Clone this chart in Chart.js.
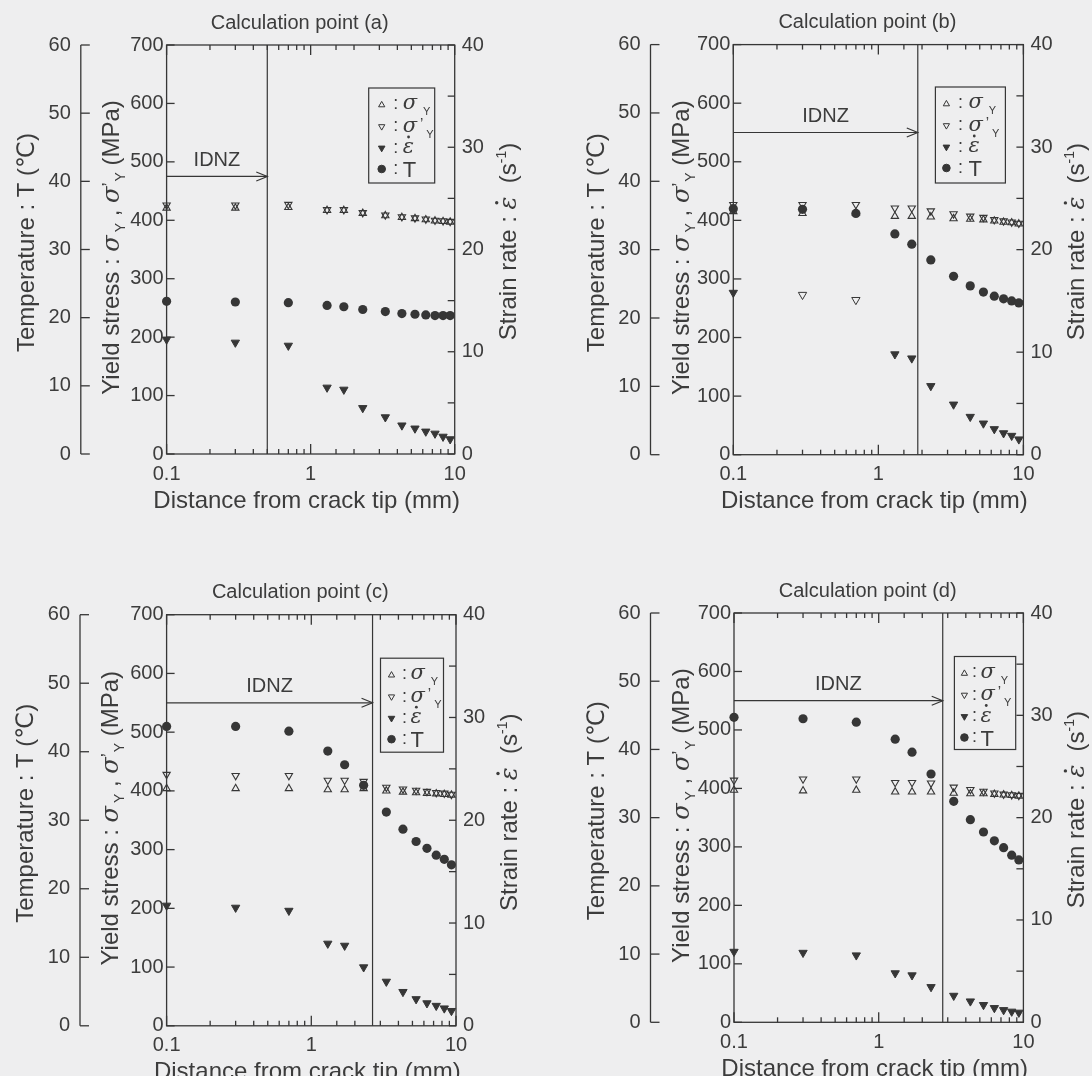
<!DOCTYPE html>
<html>
<head>
<meta charset="utf-8">
<script src="https://cdn.jsdelivr.net/npm/chart.js@4.4.1/dist/chart.umd.min.js"></script>
<style>
  html, body { margin: 0; padding: 0; background: #eeeeef; width: 1092px; height: 1076px; overflow: hidden; }
  canvas { position: absolute; }
</style>
</head>
<body>
<canvas id="pa" width="546" height="538" style="left:0;top:0"></canvas>
<canvas id="pb" width="546" height="538" style="left:546px;top:0"></canvas>
<canvas id="pc" width="546" height="538" style="left:0;top:538px"></canvas>
<canvas id="pd" width="546" height="538" style="left:546px;top:538px"></canvas>
<script>
// Distance of each calculation node ahead of the crack tip (mm)
const distance = [0.1, 0.3, 0.7, 1.3, 1.7, 2.3, 3.3, 4.3, 5.3, 6.3, 7.3, 8.3, 9.3];

// Calculation point (a)
const sigmaY_a  = [421, 421, 422, 417, 417, 412, 408, 405, 403, 401, 399, 398, 397];
const sigmaPY_a = [426, 426, 427, 418, 418, 413, 409, 406, 404, 402, 400, 399, 398];
const rate_a    = [11.2, 10.9, 10.6, 6.5, 6.3, 4.5, 3.6, 2.8, 2.5, 2.2, 2.0, 1.7, 1.45];
const temp_a    = [22.4, 22.3, 22.2, 21.8, 21.6, 21.2, 20.9, 20.6, 20.5, 20.4, 20.3, 20.3, 20.3];
const idnzEnd_a = 0.5;    // mm
const idnzLevel_a = 475;  // MPa

// Calculation point (b)
const sigmaY_b  = [415, 412, 413, 407, 407, 406, 403, 402, 401, 399, 397, 396, 394];
const sigmaPY_b = [427, 427, 427, 421, 421, 416, 411, 407, 405, 401, 399, 397, 395];
const rate_b    = [15.8, 15.6, 15.1, 9.8, 9.4, 6.7, 4.9, 3.7, 3.05, 2.5, 2.1, 1.85, 1.5];
const temp_b    = [36.0, 35.9, 35.3, 32.3, 30.8, 28.5, 26.1, 24.7, 23.8, 23.2, 22.8, 22.5, 22.2];
const idnzEnd_b = 1.87;
const idnzLevel_b = 550;

// Calculation point (c)
const sigmaY_c  = [404, 404, 404, 402, 402, 404, 400, 398, 397, 396, 395, 394, 393];
const sigmaPY_c = [428, 426, 426, 418, 418, 416, 406, 403, 401, 399, 397, 396, 394];
const rate_c    = [11.7, 11.5, 11.2, 8.0, 7.8, 5.7, 4.3, 3.3, 2.6, 2.2, 1.95, 1.7, 1.45];
const temp_c    = [43.7, 43.7, 43.0, 40.1, 38.1, 35.1, 31.2, 28.7, 26.9, 25.9, 24.9, 24.3, 23.5];
const idnzEnd_c = 2.65;
const idnzLevel_c = 550;

// Calculation point (d)
const sigmaY_d  = [397, 396, 397, 394, 394, 394, 392, 391, 391, 390, 389, 388, 387];
const sigmaPY_d = [414, 416, 416, 410, 410, 409, 402, 398, 395, 392, 390, 389, 388];
const rate_d    = [6.9, 6.8, 6.55, 4.8, 4.6, 3.45, 2.6, 2.05, 1.7, 1.4, 1.2, 1.05, 0.95];
const temp_d    = [44.7, 44.5, 44.0, 41.5, 39.6, 36.4, 32.4, 29.7, 27.9, 26.6, 25.6, 24.5, 23.8];
const idnzEnd_d = 2.77;
const idnzLevel_d = 550;

// Axis ticks and labels
const xTickValues = [0.1, 1, 10];
const xTickLabels = ['0.1', '1', '10'];
const stressTicks = [0, 100, 200, 300, 400, 500, 600, 700];
const tempTicks   = [0, 10, 20, 30, 40, 50, 60];
const rateTicks   = [0, 10, 20, 30, 40];
const panelTitles = ['Calculation point (a)', 'Calculation point (b)', 'Calculation point (c)', 'Calculation point (d)'];
const zoneLabel = 'IDNZ';

// ---------------------------------------------------------------------------
const FONT = '"Liberation Sans", Arial, "DejaVu Sans", sans-serif';
const SYMF = '"DejaVu Serif", "Liberation Serif", serif';
const INK = '#363636';
const TEXT = '#3c3c3c';
const BG = '#eeeeef';

const panels = [
  { id: 'pa', title: panelTitles[0], sY: sigmaY_a, sP: sigmaPY_a, rate: rate_a, temp: temp_a, end: idnzEnd_a, level: idnzLevel_a,
    box: { l: 166.6, t: 45, r: 454.7, b: 454 }, tempLine: 80.8,
    legend: { x: -86, y: 43, w: 66, h: 95, sym: 13, colon: 27, text: 34 }, hollowRate: [] },
  { id: 'pb', title: panelTitles[1], sY: sigmaY_b, sP: sigmaPY_b, rate: rate_b, temp: temp_b, end: idnzEnd_b, level: idnzLevel_b,
    box: { l: 187.3, t: 44.6, r: 477.4, b: 454.7 }, tempLine: 104.5,
    legend: { x: -88, y: 42.4, w: 70, h: 96, sym: 11, colon: 25, text: 33 }, hollowRate: [1, 2] },
  { id: 'pc', title: panelTitles[2], sY: sigmaY_c, sP: sigmaPY_c, rate: rate_c, temp: temp_c, end: idnzEnd_c, level: idnzLevel_c,
    box: { l: 166.6, t: 76.7, r: 456, b: 487.8 }, tempLine: 80,
    legend: { x: -75.5, y: 43.5, w: 63, h: 94, sym: 11, colon: 24, text: 30 }, hollowRate: [] },
  { id: 'pd', title: panelTitles[3], sY: sigmaY_d, sP: sigmaPY_d, rate: rate_d, temp: temp_d, end: idnzEnd_d, level: idnzLevel_d,
    box: { l: 188, t: 75, r: 477.4, b: 484.3 }, tempLine: 104.5,
    legend: { x: -69, y: 43.5, w: 61.3, h: 93, sym: 10, colon: 20, text: 26 }, hollowRate: [] }
];

const W = 546, H = 538;
const TEMP_W = 70, X_H = 40, PAD_R = 4;

function isDecade(v) {
  const l = Math.log10(v);
  return Math.abs(l - Math.round(l)) < 1e-6;
}

function line(ctx, x1, y1, x2, y2) {
  ctx.beginPath(); ctx.moveTo(x1, y1); ctx.lineTo(x2, y2); ctx.stroke();
}

// Text built from runs of different fonts (subscripts, primes, dotted epsilon)
function drawRich(ctx, runs, x, y, opts) {
  const o = opts || {};
  ctx.save();
  ctx.translate(x, y);
  if (o.rot) ctx.rotate(o.rot);
  ctx.fillStyle = TEXT;
  ctx.textAlign = 'left';
  ctx.textBaseline = 'alphabetic';
  let total = 0;
  const widths = runs.map(r => {
    ctx.font = r.font;
    const w = ctx.measureText(r.text).width + (r.gap || 0);
    total += w;
    return w;
  });
  let cx = o.align === 'left' ? 0 : -total / 2;
  const base = o.base || 0;
  runs.forEach((r, i) => {
    ctx.font = r.font;
    ctx.fillText(r.text, cx, base + (r.dy || 0));
    if (r.dot) {
      const tw = ctx.measureText(r.text).width;
      ctx.beginPath();
      ctx.arc(cx + tw * 0.52, base + r.dot, r.dotR || 1.5, 0, Math.PI * 2);
      ctx.fill();
    }
    cx += widths[i];
  });
  ctx.restore();
}

function drawSymbol(ctx, style, rotation, radius, filled, x, y) {
  ctx.save();
  ctx.strokeStyle = INK;
  ctx.fillStyle = filled ? INK : 'rgba(0,0,0,0)';
  ctx.lineWidth = 1;
  Chart.helpers.drawPoint(ctx, { pointStyle: style, rotation: rotation, radius: radius, borderWidth: 1 }, x, y);
  ctx.restore();
}

const decor = {
  id: 'decor',
  beforeDatasetsDraw(chart) {
    const p = chart.options.plugins.decor.panel;
    const ctx = chart.ctx;
    const ca = chart.chartArea;
    const { x, yS, yT, yR } = chart.scales;
    ctx.save();
    ctx.strokeStyle = INK;
    ctx.lineWidth = 1.3;
    // plot frame
    ctx.strokeRect(ca.left, ca.top, ca.right - ca.left, ca.bottom - ca.top);
    // temperature axis, offset to the left
    const tx = yT.right;
    line(ctx, tx, yT.getPixelForValue(yT.max), tx, yT.getPixelForValue(yT.min));
    yT.ticks.forEach(t => { const py = yT.getPixelForValue(t.value); line(ctx, tx, py, tx + 9, py); });
    // yield stress ticks (inside)
    yS.ticks.forEach(t => { const py = yS.getPixelForValue(t.value); line(ctx, ca.left, py, ca.left + 8, py); });
    // strain rate ticks, with a minor tick half way
    for (let i = 0; i < rateTicks.length; i++) {
      const py = yR.getPixelForValue(rateTicks[i]);
      line(ctx, ca.right - 7, py, ca.right, py);
      if (i < rateTicks.length - 1) {
        const pm = yR.getPixelForValue((rateTicks[i] + rateTicks[i + 1]) / 2);
        line(ctx, ca.right - 7, pm, ca.right, pm);
      }
    }
    // logarithmic ticks on bottom and top
    x.ticks.forEach(t => {
      const px = x.getPixelForValue(t.value);
      const len = isDecade(t.value) ? 10 : 5;
      line(ctx, px, ca.bottom, px, ca.bottom - len);
      line(ctx, px, ca.top, px, ca.top + len);
    });
    // boundary of the zone and its arrow
    ctx.lineWidth = 1.2;
    const bx = x.getPixelForValue(p.end);
    line(ctx, bx, ca.top, bx, ca.bottom);
    const ay = yS.getPixelForValue(p.level);
    line(ctx, ca.left, ay, bx, ay);
    ctx.beginPath();
    ctx.moveTo(bx - 11, ay - 4.5); ctx.lineTo(bx, ay); ctx.lineTo(bx - 11, ay + 4.5);
    ctx.stroke();
    ctx.fillStyle = TEXT;
    ctx.font = '20px ' + FONT;
    ctx.textAlign = 'center';
    ctx.textBaseline = 'middle';
    ctx.fillText(zoneLabel, (ca.left + bx) / 2, ay - 16);
    ctx.restore();
  },
  afterDraw(chart) {
    const p = chart.options.plugins.decor.panel;
    const ctx = chart.ctx;
    const ca = chart.chartArea;
    const { yT } = chart.scales;
    const midX = (ca.left + ca.right) / 2;
    const midY = (ca.top + ca.bottom) / 2;
    ctx.save();
    // panel title
    ctx.fillStyle = TEXT;
    ctx.font = '20px ' + FONT;
    ctx.textAlign = 'center';
    ctx.textBaseline = 'middle';
    ctx.fillText(p.title, midX - 11, ca.top - 22);
    // x axis title
    ctx.font = '24px ' + FONT;
    ctx.fillText('Distance from crack tip (mm)', midX - 4, ca.bottom + 47);
    ctx.restore();

    const up = -Math.PI / 2;
    const big = '24px ' + FONT;
    const ital = 'italic 24px ' + SYMF;
    const small = '14px ' + FONT;
    // temperature axis title
    drawRich(ctx, [{ text: 'Temperature : T (\u2103)', font: big }],
      yT.right - 55, midY - 7, { rot: up, base: 8 });
    // yield stress axis title
    drawRich(ctx, [
      { text: 'Yield stress : ', font: big },
      { text: '\u03c3', font: ital, gap: 3 },
      { text: 'Y', font: small, dy: 6 },
      { text: ' , ', font: big },
      { text: '\u03c3', font: ital },
      { text: '\u2019', font: '18px ' + FONT, dy: -4, gap: 1 },
      { text: 'Y', font: small, dy: 6 },
      { text: ' (MPa)', font: big }
    ], yT.right + 30, midY - 2, { rot: up, base: 8 });
    // strain rate axis title
    drawRich(ctx, [
      { text: 'Strain rate : ', font: big },
      { text: '\u03b5', font: ital, dot: -19, dotR: 1.7 },
      { text: '  (s', font: big },
      { text: '-1', font: small, dy: -10 },
      { text: ')', font: big }
    ], ca.right + 53, midY - 8, { rot: up, base: 8 });

    // legend box
    const L = p.legend;
    const lx = ca.right + L.x, ly = ca.top + L.y;
    ctx.save();
    ctx.fillStyle = BG;
    ctx.fillRect(lx, ly, L.w, L.h);
    ctx.strokeStyle = INK;
    ctx.lineWidth = 1.2;
    ctx.strokeRect(lx, ly, L.w, L.h);
    ctx.restore();
    const rows = [16, 38.5, 60, 81];
    const symF = 'italic 21px ' + SYMF;
    const subF = '11px ' + FONT;
    drawSymbol(ctx, 'triangle', 0, 3.6, false, lx + L.sym, ly + rows[0] + 1);
    drawSymbol(ctx, 'triangle', 180, 3.6, false, lx + L.sym, ly + rows[1]);
    drawSymbol(ctx, 'triangle', 180, 3.8, true, lx + L.sym, ly + rows[2]);
    drawSymbol(ctx, 'circle', 0, 3.8, true, lx + L.sym, ly + rows[3]);
    ctx.save();
    ctx.fillStyle = TEXT;
    ctx.font = '18px ' + FONT;
    ctx.textAlign = 'center';
    ctx.textBaseline = 'middle';
    rows.forEach(r => ctx.fillText(':', lx + L.colon, ly + r));
    ctx.restore();
    drawRich(ctx, [{ text: '\u03c3', font: symF, gap: 6 }, { text: 'Y', font: subF, dy: 6 }],
      lx + L.text, ly + rows[0], { align: 'left', base: 5 });
    drawRich(ctx, [{ text: '\u03c3', font: symF, gap: 3 }, { text: '\u2019', font: '15px ' + FONT, dy: -4, gap: 3 }, { text: 'Y', font: subF, dy: 6 }],
      lx + L.text, ly + rows[1], { align: 'left', base: 5 });
    drawRich(ctx, [{ text: '\u03b5', font: symF, dot: -16, dotR: 1.4 }],
      lx + L.text, ly + rows[2], { align: 'left', base: 5 });
    drawRich(ctx, [{ text: 'T', font: '22px ' + FONT }],
      lx + L.text, ly + rows[3], { align: 'left', base: 8 });
  }
};

function tickFont() { return { family: FONT, size: 20 }; }

panels.forEach(p => {
  const padLeft = p.tempLine - TEMP_W;
  const stressW = p.box.l - p.tempLine;
  const rightW = W - p.box.r - PAD_R;
  const padBottom = H - p.box.b - X_H;
  const pts = arr => distance.map((d, i) => ({ x: d, y: arr[i] }));
  const rateFill = distance.map((d, i) => p.hollowRate.includes(i) ? 'rgba(0,0,0,0)' : INK);

  new Chart(document.getElementById(p.id), {
    type: 'scatter',
    data: {
      datasets: [
        { label: '\u03c3Y', data: pts(p.sY), yAxisID: 'yS', pointStyle: 'triangle', rotation: 0,
          pointRadius: 4.2, backgroundColor: 'rgba(0,0,0,0)', borderColor: INK, borderWidth: 1.1, clip: false },
        { label: '\u03c3\u2019Y', data: pts(p.sP), yAxisID: 'yS', pointStyle: 'triangle', rotation: 180,
          pointRadius: 4.2, backgroundColor: 'rgba(0,0,0,0)', borderColor: INK, borderWidth: 1.1, clip: false },
        { label: 'strain rate', data: pts(p.rate), yAxisID: 'yR', pointStyle: 'triangle', rotation: 180,
          pointRadius: 4.8, backgroundColor: rateFill, borderColor: INK, borderWidth: 1, clip: false },
        { label: 'T', data: pts(p.temp), yAxisID: 'yT', pointStyle: 'circle',
          pointRadius: 4.6, backgroundColor: INK, borderColor: INK, borderWidth: 0, clip: false }
      ]
    },
    options: {
      responsive: false,
      animation: false,
      devicePixelRatio: 1,
      events: [],
      layout: { padding: { left: padLeft, right: PAD_R, top: p.box.t, bottom: padBottom } },
      plugins: {
        legend: { display: false },
        title: { display: false },
        tooltip: { enabled: false },
        decor: { panel: p }
      },
      scales: {
        x: {
          type: 'logarithmic', position: 'bottom', min: 0.1, max: 10,
          grid: { display: false, drawTicks: false }, border: { display: false },
          ticks: {
            autoSkip: false, maxRotation: 0, minRotation: 0, padding: 8, color: TEXT, font: tickFont(),
            callback: v => {
              const k = xTickValues.findIndex(t => Math.abs(Math.log10(t) - Math.log10(v)) < 1e-6);
              return k >= 0 ? xTickLabels[k] : '';
            }
          },
          afterFit: s => { s.height = X_H; }
        },
        yS: {
          type: 'linear', position: 'left', weight: 0, min: 0, max: 700,
          grid: { display: false, drawTicks: false }, border: { display: false },
          afterBuildTicks: s => { s.ticks = stressTicks.map(v => ({ value: v })); },
          ticks: { padding: 3, color: TEXT, font: tickFont() },
          afterFit: s => { s.width = stressW; }
        },
        yT: {
          type: 'linear', position: 'left', weight: 1, min: 0, max: 60,
          grid: { display: false, drawTicks: false }, border: { display: false },
          afterBuildTicks: s => { s.ticks = tempTicks.map(v => ({ value: v })); },
          ticks: { padding: 10, color: TEXT, font: tickFont() },
          afterFit: s => { s.width = TEMP_W; }
        },
        yR: {
          type: 'linear', position: 'right', min: 0, max: 40,
          grid: { display: false, drawTicks: false }, border: { display: false },
          afterBuildTicks: s => { s.ticks = rateTicks.map(v => ({ value: v })); },
          ticks: { padding: 7, color: TEXT, font: tickFont() },
          afterFit: s => { s.width = rightW; }
        }
      }
    },
    plugins: [decor]
  });
});
</script>
</body>
</html>
